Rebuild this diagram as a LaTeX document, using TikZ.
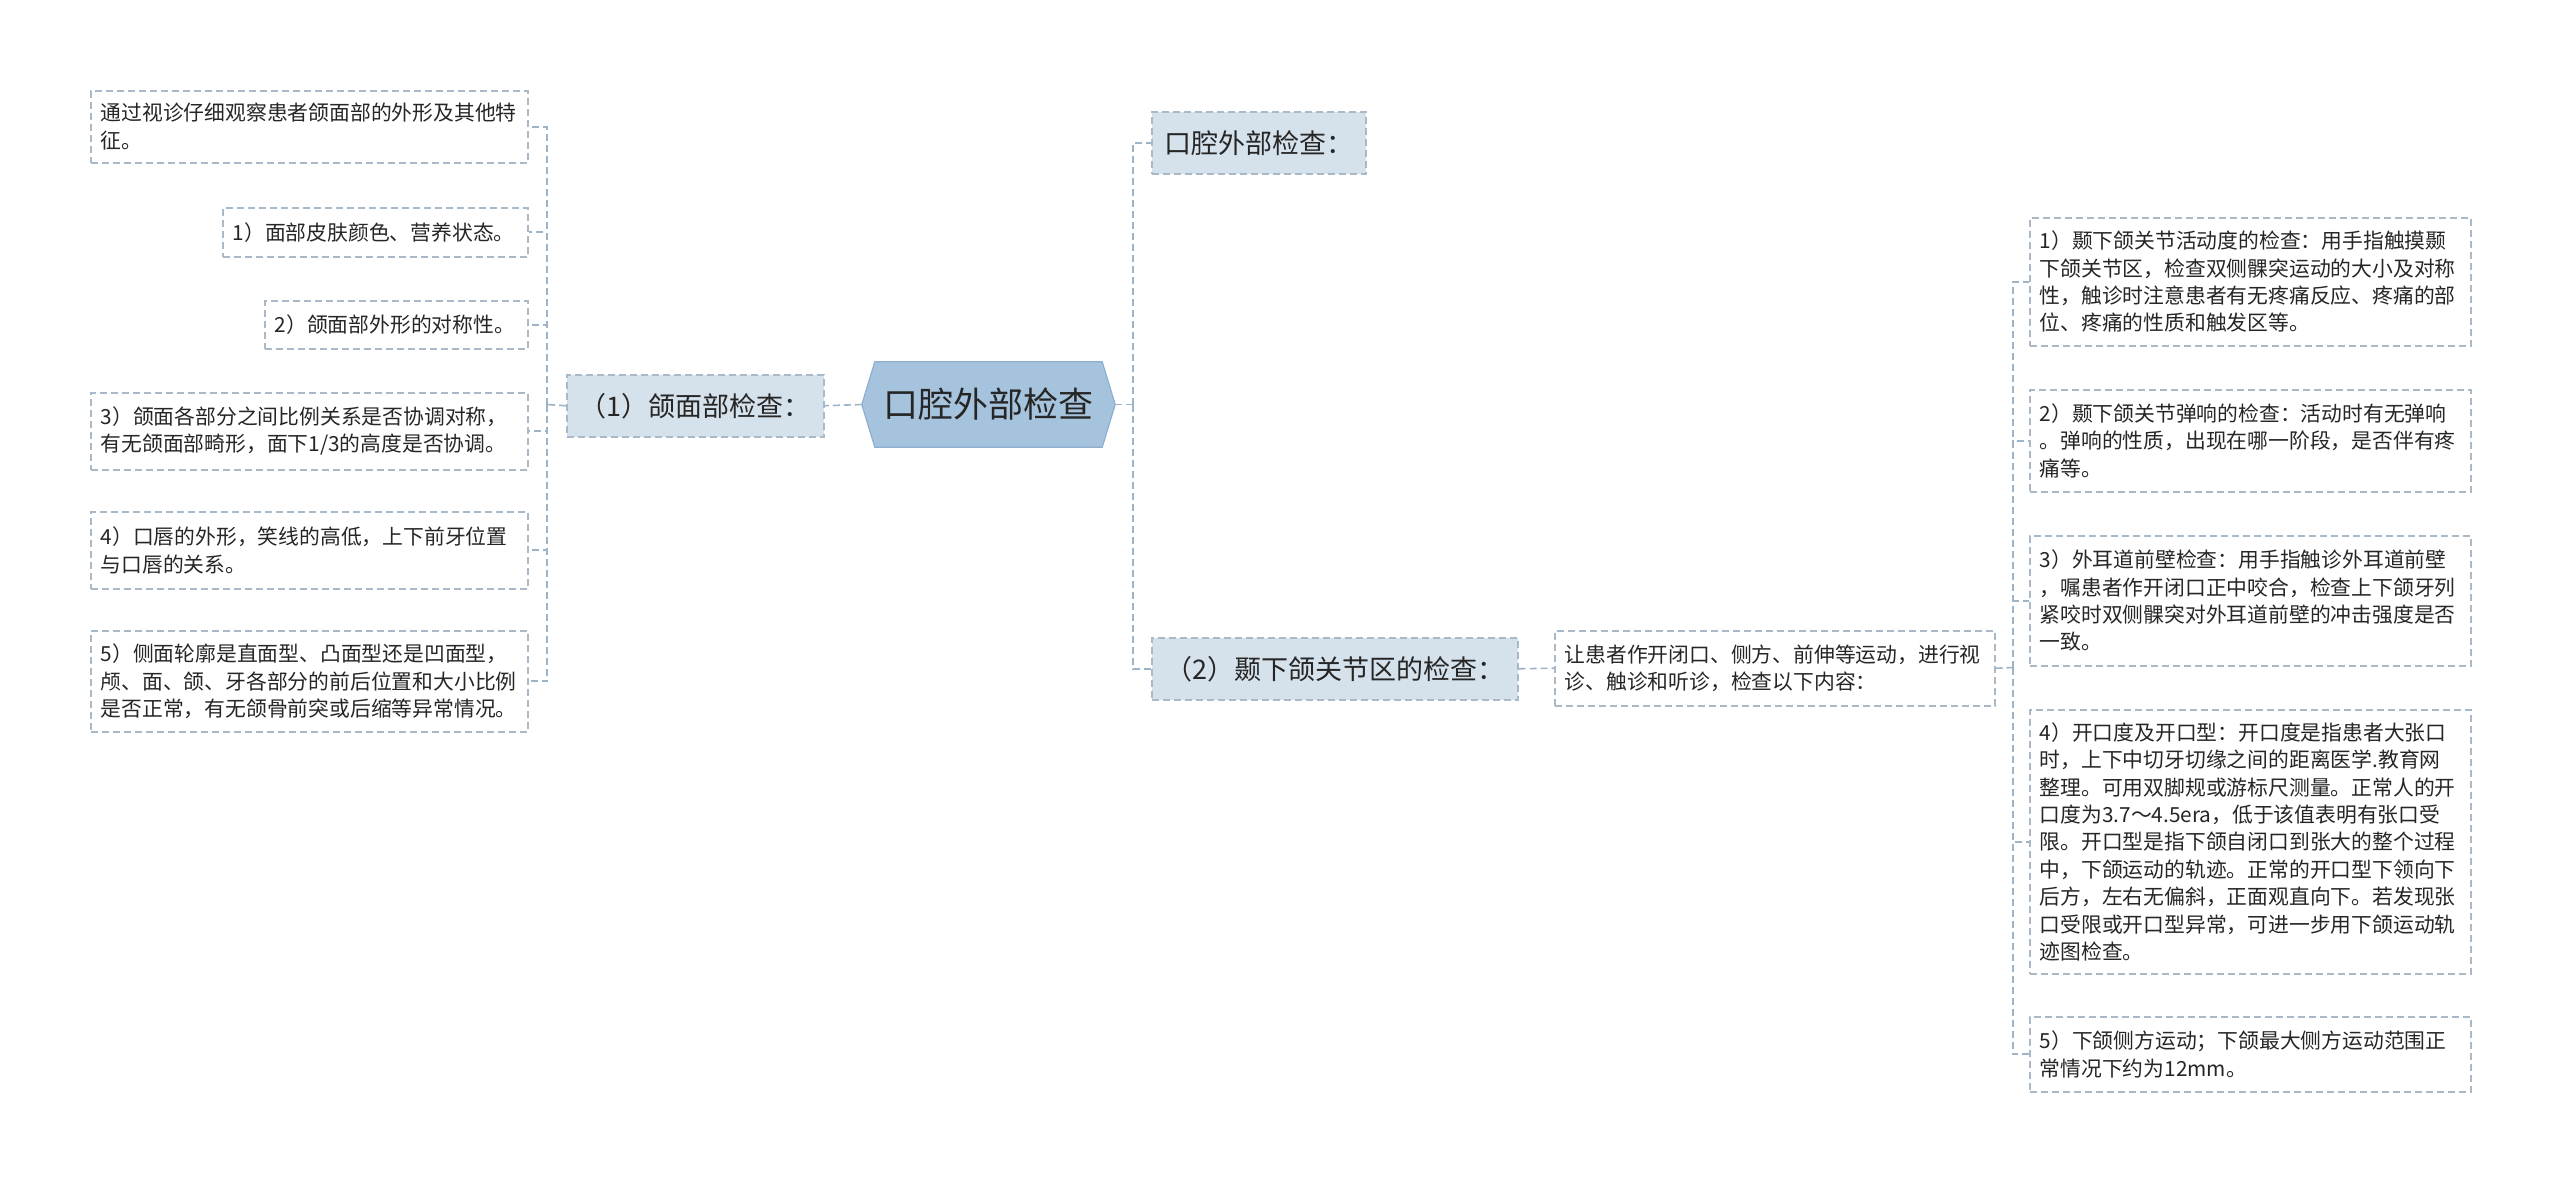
\documentclass[tikz,border=0pt]{standalone}
\usepackage{fontspec}
\setmainfont{Noto Sans CJK SC}
\usetikzlibrary{backgrounds}
\definecolor{linec}{HTML}{9DB3C7}
\definecolor{bordc}{HTML}{A9B9C7}
\definecolor{lvfill}{HTML}{D5E1EB}
\definecolor{rootfill}{HTML}{A6C3DE}
\definecolor{rootdraw}{HTML}{8DAFD0}
\definecolor{txt}{HTML}{262626}
\newcommand{\leaffont}{\fontsize{20.8}{27.4}\selectfont}
\newcommand{\lvfont}{\fontsize{27}{32}\selectfont}
\newcommand{\rootfont}{\fontsize{35}{40}\selectfont}
\tikzset{
  dsh/.style={dash pattern=on 7pt off 4pt},
  conn/.style={draw=linec, line width=1.6pt, dsh},
  leaf/.style={draw=bordc, line width=1.5pt, dsh, fill=white, inner xsep=10pt, inner ysep=0pt,
    align=left, font=\leaffont, text=txt, anchor=north west},
  lvbox/.style={draw=bordc, line width=1.5pt, dsh, fill=lvfill, inner xsep=0pt, inner ysep=0pt,
    align=center, font=\lvfont, text=txt, anchor=north west, minimum height=62pt},
}
\begin{document}
\begin{tikzpicture}[x=1pt,y=-1pt]
\begin{scope}[on background layer]
\fill[white] (0,0) rectangle (2560,1181);
\end{scope}
\useasboundingbox (0,0) rectangle (2560,1181);

% root
\node[inner sep=0pt, minimum width=253pt, minimum height=85pt, font=\rootfont, text=txt] (root) at (988.5,404.5) {口腔外部检查};
\begin{scope}[on background layer]
\filldraw[fill=rootfill, draw=rootdraw, line width=1.2pt]
  (root.west) -- ([xshift=13pt]root.north west) -- ([xshift=-13pt]root.north east) -- (root.east)
  -- ([xshift=-13pt]root.south east) -- ([xshift=13pt]root.south west) -- cycle;
\end{scope}

% level 1
\node[lvbox, minimum width=257pt] (p1) at (566,374) {（1）颌面部检查：};
\node[lvbox, minimum width=214pt] (pa) at (1151,111) {口腔外部检查：};
\node[lvbox, minimum width=366pt] (pb) at (1151,637) {（2）颞下颌关节区的检查：};

% left leaves
\node[leaf, text width=417pt, minimum height=72pt] (l0) at (90,90) {通过视诊仔细观察患者颌面部的外形及其他特\\征。};
\node[leaf, text width=285pt, minimum height=49pt] (l1) at (222,207) {1）面部皮肤颜色、营养状态。};
\node[leaf, text width=243pt, minimum height=48pt] (l2) at (264,300) {2）颌面部外形的对称性。};
\node[leaf, text width=417pt, minimum height=77pt] (l3) at (90,392) {3）颌面各部分之间比例关系是否协调对称，\\有无颌面部畸形，面下1/3的高度是否协调。};
\node[leaf, text width=417pt, minimum height=77pt] (l4) at (90,511) {4）口唇的外形，笑线的高低，上下前牙位置\\与口唇的关系。};
\node[leaf, text width=417pt, minimum height=101pt] (l5) at (90,630) {5）侧面轮廓是直面型、凸面型还是凹面型，\\颅、面、颌、牙各部分的前后位置和大小比例\\是否正常，有无颌骨前突或后缩等异常情况。};

% middle
\node[leaf, text width=420pt, minimum height=75pt] (m) at (1554,630) {让患者作开闭口、侧方、前伸等运动，进行视\\诊、触诊和听诊，检查以下内容：};

% right leaves
\node[leaf, text width=421pt, minimum height=128pt] (r1) at (2029,217) {1）颞下颌关节活动度的检查：用手指触摸颞\\下颌关节区，检查双侧髁突运动的大小及对称\\性，触诊时注意患者有无疼痛反应、疼痛的部\\位、疼痛的性质和触发区等。};
\node[leaf, text width=421pt, minimum height=102pt] (r2) at (2029,389) {2）颞下颌关节弹响的检查：活动时有无弹响\\。弹响的性质，出现在哪一阶段，是否伴有疼\\痛等。};
\node[leaf, text width=421pt, minimum height=130pt] (r3) at (2029,535) {3）外耳道前壁检查：用手指触诊外耳道前壁\\，嘱患者作开闭口正中咬合，检查上下颌牙列\\紧咬时双侧髁突对外耳道前壁的冲击强度是否\\一致。};
\node[leaf, text width=421pt, minimum height=264pt] (r4) at (2029,709) {4）开口度及开口型：开口度是指患者大张口\\时，上下中切牙切缘之间的距离医学.教育网\\整理。可用双脚规或游标尺测量。正常人的开\\口度为3.7～4.5era，低于该值表明有张口受\\限。开口型是指下颌自闭口到张大的整个过程\\中，下颌运动的轨迹。正常的开口型下领向下\\后方，左右无偏斜，正面观直向下。若发现张\\口受限或开口型异常，可进一步用下颌运动轨\\迹图检查。};
\node[leaf, text width=421pt, minimum height=75pt] (r5) at (2029,1016) {5）下颌侧方运动；下颌最大侧方运动范围正\\常情况下约为12mm。};

% connectors
\coordinate (jl) at (547,404.5);
\coordinate (jr) at (1133,404.5);
\coordinate (jm) at (2013,667.5);

\draw[conn] (root.west) -- (p1.east);
\draw[conn] (p1.west) -- (jl);
\foreach \c in {l0,l1,l2,l3,l4,l5} {\draw[conn] (jl) |- (\c.east);}

\draw[conn] (root.east) -- (jr);
\foreach \c in {pa,pb} {\draw[conn] (jr) |- (\c.west);}

\draw[conn] (pb.east) -- (m.west);
\draw[conn] (m.east) -- (jm);
\foreach \c in {r1,r2,r3,r4,r5} {\draw[conn] (jm) |- (\c.west);}
\end{tikzpicture}
\end{document}
